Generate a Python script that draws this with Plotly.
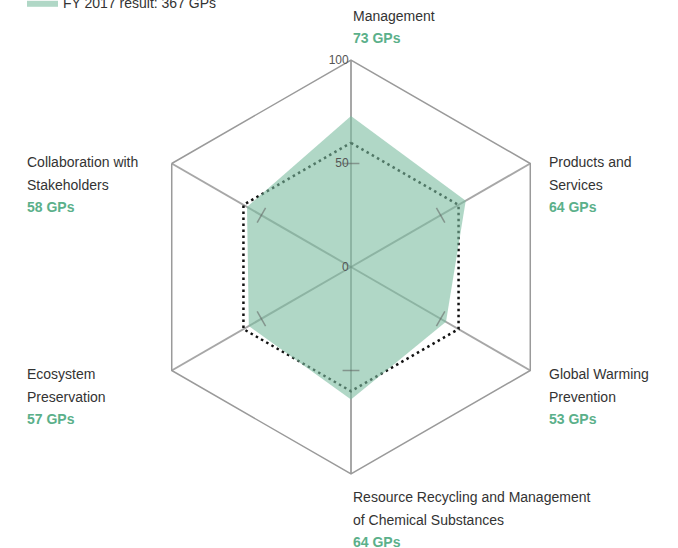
import plotly.graph_objects as go

# data
categories = ["Environmental Management", "Products and Services", "Global Warming Prevention",
              "Resource Recycling and Management of Chemical Substances",
              "Ecosystem Preservation", "Collaboration with Stakeholders"]
label_lines = [["Environmental", "Management"], ["Products and", "Services"],
               ["Global Warming", "Prevention"],
               ["Resource Recycling and Management", "of Chemical Substances"],
               ["Ecosystem", "Preservation"], ["Collaboration with", "Stakeholders"]]
result_gps = [73, 64, 53, 64, 57, 58]
target_gps = [60, 60, 60, 60, 60, 60]
axis_tick_value = 50
bearings = [0, 60, 120, 180, 240, 300]
radial_ticks = [0, 50, 100]

W, H = 678, 548
cx, cy, R = 351, 267, 207

def px(x, y):
    return x / W, 1 - y / H

GREEN_FILL = "rgba(124,189,160,0.6)"
GREEN_TEXT = "#5bb08a"
GRID = "rgba(95,95,95,0.55)"
FONT = "Liberation Sans, Arial, sans-serif"

theta = categories + [categories[0]]

fig = go.Figure()
fig.add_trace(go.Scatterpolar(
    r=target_gps + [target_gps[0]], theta=theta, mode="lines",
    line=dict(color="#111111", width=2.5, dash="2.5px,3.5px"),
    name="FY 2017 target: 360 GPs", showlegend=True))
fig.add_trace(go.Scatterpolar(
    r=result_gps + [result_gps[0]], theta=theta, mode="lines", fill="toself",
    fillcolor=GREEN_FILL, line=dict(color="rgba(0,0,0,0)", width=0),
    name="FY 2017 result: 367 GPs", showlegend=True))
# small cross ticks on each axis
fig.add_trace(go.Scatterpolar(
    r=[axis_tick_value] * len(categories), theta=categories, mode="markers",
    marker=dict(symbol="line-ew", size=12, angle=bearings,
                line=dict(color=GRID, width=1.5)),
    showlegend=False, hoverinfo="skip"))

# label positions (pixel left edge, first line centre)
label_pos = [(351, -7), (547, 162), (547, 374), (351, 497), (25, 374), (25, 162)]
LINE = 22.5
annotations = []
for (x, y), lines, gp in zip(label_pos, label_lines, result_gps):
    for i, t in enumerate(lines + [f"<b>{gp} GPs</b>"]):
        ax, ay = px(x, y + i * LINE)
        annotations.append(dict(
            x=ax, y=ay, xref="paper", yref="paper", text=t, showarrow=False,
            xanchor="left", yanchor="middle",
            font=dict(family=FONT, size=14, color=GREEN_TEXT if i == len(lines) else "#333333")))

x0, y1 = px(cx - R, cy - R)
x1, y0 = px(cx + R, cy + R)

fig.update_layout(
    width=W, height=H,
    showlegend=True,
    margin=dict(l=0, r=0, t=0, b=0, autoexpand=False),
    paper_bgcolor="white", plot_bgcolor="white",
    font=dict(family=FONT, size=14, color="#333333"),
    polar=dict(
        domain=dict(x=[x0, x1], y=[y0, y1]),
        bgcolor="rgba(0,0,0,0)",
        gridshape="linear",
        radialaxis=dict(range=[0, 100], tickvals=radial_ticks, ticks="",
                        showline=False, showgrid=False, angle=90, tickangle=90,
                        side="counterclockwise", ticksuffix="\u00a0\u00a0\u00a0",
                        tickfont=dict(size=12, color="#555555")),
        angularaxis=dict(rotation=90, direction="clockwise", showticklabels=False,
                         ticks="", showline=True, linecolor="#9a9a9a", linewidth=1.5,
                         showgrid=True, gridcolor=GRID, gridwidth=1.5),
    ),
    legend=dict(x=22 / W, y=1 - 19 / H, xanchor="left", yanchor="bottom",
                orientation="v",
                font=dict(size=14, color="#333333"), bgcolor="rgba(0,0,0,0)",
                traceorder="normal", itemwidth=31),
    annotations=annotations,
)

fig.write_html("out.html", config={"displayModeBar": False},
               post_script="document.body.style.margin='0';")
